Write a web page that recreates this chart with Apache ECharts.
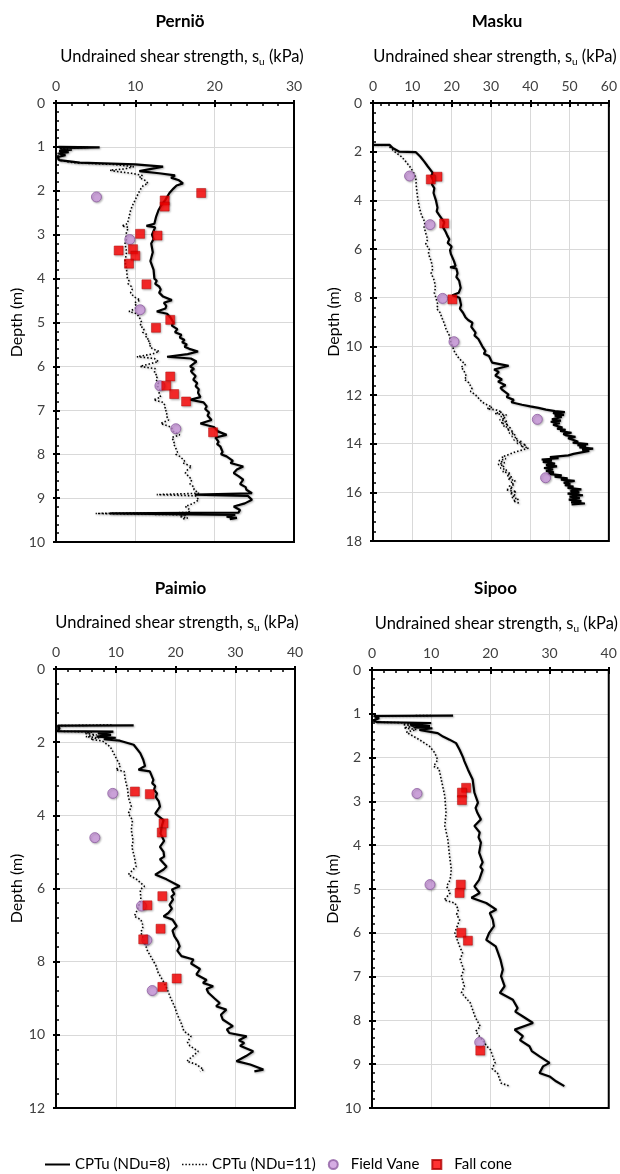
<!DOCTYPE html>
<html><head><meta charset="utf-8">
<script src="https://cdn.jsdelivr.net/npm/echarts@6/dist/echarts.min.js"></script>
<style>html,body{margin:0;padding:0;background:#fff}#c{width:620px;height:1174px}</style>
</head><body><div id="c"></div>
<script>
// ---- Data: [su (kPa), depth (m)] ----
var sites = ['Perniö', 'Masku', 'Paimio', 'Sipoo'];
var suMax = [30, 60, 40, 40];
var depthMax = [10, 18, 12, 10];
var depthStep = [1, 2, 2, 1];

var pernioCptu8 = [[0.3,1.00],[5.5,1.01],[0.5,1.03],[2.0,1.06],[0.4,1.09],[1.6,1.12],[0.3,1.15],[1.2,1.19],[0.2,1.23],[0.4,1.30],[3.0,1.36],[10.0,1.40],[13.5,1.45],[12.0,1.50],[10.5,1.55],[13.0,1.60],[15.0,1.65],[14.5,1.70],[15.5,1.76],[16.0,1.83],[15.2,1.88],[14.8,1.95],[14.3,2.05],[13.8,2.20],[13.2,2.35],[12.9,2.45],[12.6,2.60],[12.4,2.75],[11.4,2.80],[12.5,2.83],[12.1,3.00],[12.3,3.10],[12.0,3.20],[12.2,3.40],[11.9,3.60],[12.3,3.80],[12.4,4.00],[12.7,4.05],[12.5,4.12],[13.0,4.18],[13.2,4.25],[13.0,4.32],[13.5,4.41],[14.6,4.49],[13.6,4.55],[13.9,4.62],[13.8,4.68],[12.7,4.75],[14.0,4.80],[14.4,4.88],[14.8,5.00],[14.6,5.07],[15.3,5.15],[15.0,5.22],[15.8,5.28],[15.6,5.34],[16.2,5.40],[15.9,5.45],[16.5,5.50],[16.2,5.55],[16.8,5.60],[17.9,5.66],[16.6,5.72],[14.0,5.78],[17.0,5.82],[17.7,5.89],[16.9,6.00],[17.4,6.06],[17.0,6.10],[17.2,6.15],[17.6,6.22],[17.3,6.30],[17.8,6.38],[17.6,6.45],[18.0,6.52],[17.9,6.60],[18.2,6.70],[16.9,6.76],[18.6,6.82],[19.0,6.91],[18.8,6.97],[19.3,7.05],[19.1,7.12],[19.6,7.22],[18.2,7.30],[19.9,7.38],[20.4,7.48],[21.5,7.56],[20.1,7.62],[20.5,7.72],[20.3,7.77],[20.7,7.82],[21.0,7.95],[20.8,8.00],[21.5,8.05],[22.3,8.15],[22.0,8.20],[23.6,8.28],[22.8,8.35],[22.4,8.43],[23.0,8.50],[23.6,8.58],[23.2,8.68],[23.9,8.75],[24.0,8.81],[24.7,8.89],[17.5,8.92],[24.2,8.95],[24.7,9.04],[23.8,9.12],[22.4,9.19],[23.2,9.27],[23.0,9.33],[6.8,9.35],[22.6,9.38],[21.5,9.42],[22.8,9.45],[21.9,9.48]];
var pernioCptu11 = [[0.3,1.00],[4.0,1.01],[0.4,1.03],[1.5,1.06],[0.3,1.09],[1.2,1.12],[0.2,1.15],[0.9,1.19],[0.2,1.23],[0.3,1.30],[2.2,1.36],[7.3,1.40],[9.8,1.45],[8.7,1.50],[6.8,1.53],[7.6,1.56],[9.5,1.60],[10.9,1.65],[10.5,1.70],[11.2,1.76],[11.6,1.83],[11.0,1.88],[10.7,1.95],[10.4,2.05],[10.0,2.20],[9.6,2.35],[9.4,2.45],[9.2,2.60],[9.0,2.75],[8.3,2.80],[9.1,2.83],[8.8,3.00],[8.9,3.10],[8.7,3.20],[8.9,3.40],[8.7,3.60],[8.9,3.80],[9.0,4.00],[9.2,4.05],[9.1,4.12],[9.5,4.18],[9.6,4.25],[9.4,4.32],[9.8,4.41],[10.6,4.49],[9.9,4.55],[10.1,4.62],[10.0,4.68],[9.2,4.75],[10.2,4.80],[10.5,4.88],[10.8,5.00],[10.6,5.07],[11.1,5.15],[10.9,5.22],[11.5,5.28],[11.3,5.34],[11.8,5.40],[11.6,5.45],[12.0,5.50],[11.8,5.55],[12.2,5.60],[13.0,5.66],[12.1,5.72],[10.2,5.78],[12.4,5.82],[12.9,5.89],[10.6,6.00],[12.5,6.05],[12.4,6.15],[12.8,6.22],[12.6,6.30],[12.9,6.38],[12.8,6.45],[13.1,6.52],[13.0,6.60],[13.2,6.70],[12.3,6.76],[13.5,6.82],[13.8,6.91],[13.7,6.97],[14.0,7.05],[13.9,7.12],[14.2,7.22],[13.2,7.30],[14.5,7.38],[14.8,7.48],[15.6,7.56],[14.6,7.62],[14.9,7.72],[14.8,7.77],[15.0,7.82],[15.3,7.95],[15.1,8.00],[15.6,8.05],[16.2,8.15],[16.0,8.20],[17.1,8.28],[16.6,8.35],[16.3,8.43],[16.7,8.50],[17.1,8.58],[16.9,8.68],[17.4,8.75],[17.4,8.81],[18.0,8.89],[12.7,8.92],[17.6,8.95],[18.0,9.04],[17.3,9.12],[16.3,9.19],[16.9,9.27],[16.7,9.33],[5.0,9.35],[16.4,9.38],[15.6,9.42],[16.6,9.45],[15.9,9.48]];
var pernioVane = [[5.1,2.14],[9.3,3.11],[10.6,4.71],[13.1,6.44],[15.1,7.42]];
var pernioCone = [[18.3,2.05],[13.7,2.22],[13.7,2.36],[10.6,2.98],[12.8,3.02],[7.9,3.36],[9.7,3.33],[10.0,3.48],[9.2,3.66],[11.4,4.13],[14.4,4.94],[12.6,5.12],[14.4,6.23],[13.9,6.44],[14.9,6.63],[16.4,6.80],[19.8,7.50]];

var maskuCptu8 = [[0,1.72],[4.2,1.72],[5.0,1.85],[6.7,2.00],[10.9,2.02],[12.0,2.20],[13.0,2.40],[13.9,2.60],[15.2,2.87],[14.8,3.00],[15.3,3.20],[15.0,3.35],[15.6,3.50],[15.4,3.70],[16.0,4.00],[16.2,4.15],[16.4,4.30],[16.2,4.45],[16.8,4.60],[18.1,4.90],[17.8,5.10],[18.5,5.30],[18.9,5.45],[19.4,5.60],[19.0,5.75],[20.0,5.90],[19.6,6.05],[19.8,6.20],[20.6,6.50],[21.0,6.70],[19.6,6.75],[21.2,6.80],[21.5,7.00],[21.2,7.15],[21.9,7.30],[22.3,7.60],[21.8,7.80],[20.2,7.90],[22.0,8.00],[22.4,8.30],[22.1,8.45],[22.9,8.62],[23.5,8.80],[24.2,8.92],[25.3,9.03],[25.0,9.20],[26.1,9.44],[25.8,9.55],[26.8,9.70],[27.8,10.00],[28.6,10.20],[28.2,10.30],[29.5,10.40],[30.3,10.67],[34.5,10.80],[30.8,10.95],[32.0,11.05],[31.1,11.20],[32.8,11.36],[31.8,11.45],[33.7,11.60],[32.4,11.70],[33.0,11.80],[34.5,11.98],[34.0,12.08],[35.8,12.20],[35.2,12.30],[37.9,12.40],[40.0,12.47],[42.1,12.53],[44.0,12.60],[46.3,12.66],[48.8,12.70],[45.8,12.74],[46.5,12.78],[48.6,12.82],[46.2,12.85],[48.0,12.90],[45.5,13.00],[47.8,13.05],[45.2,13.10],[47.5,13.16],[45.8,13.22],[46.3,13.28],[48.2,13.34],[46.8,13.38],[49.0,13.43],[47.6,13.48],[50.5,13.55],[48.4,13.60],[49.2,13.66],[51.5,13.72],[49.6,13.78],[51.0,13.85],[52.2,13.92],[50.8,13.96],[54.7,14.02],[52.0,14.06],[54.2,14.10],[52.5,14.15],[56.0,14.20],[53.2,14.25],[55.0,14.30],[53.0,14.36],[51.0,14.42],[49.7,14.48],[45.0,14.55],[47.2,14.60],[42.9,14.65],[45.5,14.70],[43.2,14.75],[46.3,14.82],[44.0,14.88],[46.8,14.93],[43.5,15.00],[45.8,15.06],[44.0,15.12],[46.0,15.18],[44.5,15.24],[48.0,15.30],[46.2,15.36],[49.5,15.42],[47.8,15.48],[51.3,15.53],[48.5,15.60],[50.2,15.66],[48.8,15.71],[51.0,15.76],[49.5,15.82],[53.0,15.88],[50.2,15.94],[52.5,16.00],[49.5,16.05],[53.4,16.12],[50.0,16.18],[52.6,16.24],[49.8,16.30],[53.0,16.36],[50.4,16.41],[53.9,16.46],[50.5,16.50]];
var maskuCptu11 = [[0,1.72],[3.8,1.72],[4.5,1.85],[5.5,2.00],[7.2,2.20],[8.3,2.40],[9.3,2.60],[10.3,2.85],[10.9,3.10],[11.0,3.40],[11.2,3.70],[11.4,3.95],[11.8,4.30],[12.3,4.60],[13.2,4.90],[13.0,5.10],[13.5,5.40],[13.9,5.60],[13.4,5.80],[14.3,6.00],[14.1,6.20],[14.8,6.50],[15.2,6.80],[14.8,7.00],[15.6,7.30],[15.9,7.60],[15.6,7.80],[16.0,8.00],[16.5,8.30],[16.2,8.45],[17.0,8.60],[17.6,8.85],[18.1,9.05],[18.6,9.30],[19.4,9.55],[19.8,9.80],[20.2,10.00],[20.8,10.25],[21.9,10.50],[23.5,10.75],[22.4,10.85],[23.1,11.00],[23.8,11.25],[23.2,11.35],[24.4,11.50],[25.2,11.75],[24.8,11.85],[26.1,12.00],[27.8,12.30],[29.0,12.40],[30.3,12.50],[29.0,12.56],[31.5,12.62],[32.8,12.70],[31.0,12.76],[34.0,12.82],[32.5,12.88],[33.7,12.95],[32.2,13.02],[34.2,13.08],[32.5,13.15],[34.5,13.22],[33.2,13.28],[35.0,13.35],[34.0,13.42],[35.8,13.50],[34.6,13.56],[36.2,13.62],[35.3,13.70],[36.8,13.78],[35.8,13.85],[37.9,13.92],[36.6,13.98],[39.0,14.05],[37.5,14.10],[39.6,14.18],[38.2,14.25],[36.0,14.35],[34.5,14.45],[32.8,14.55],[33.8,14.62],[32.0,14.70],[33.5,14.78],[31.8,14.85],[33.4,14.92],[32.4,15.00],[34.0,15.08],[33.0,15.15],[35.0,15.22],[34.0,15.30],[35.4,15.38],[34.3,15.45],[36.2,15.52],[35.0,15.60],[36.0,15.68],[34.6,15.75],[35.6,15.82],[33.8,15.90],[36.5,15.97],[34.8,16.04],[36.3,16.12],[35.2,16.20],[37.0,16.28],[35.6,16.35],[36.8,16.42],[37.4,16.48]];
var maskuVane = [[9.3,3.00],[14.5,5.00],[17.7,8.03],[20.6,9.81],[41.8,13.00],[43.9,15.40]];
var maskuCone = [[16.4,3.03],[14.7,3.14],[18.1,4.95],[20.2,8.07]];

var paimioCptu8 = [[13.0,1.54],[0.3,1.55],[0.6,1.62],[0.2,1.70],[9.6,1.71],[7.0,1.76],[9.2,1.80],[6.8,1.85],[10.0,1.88],[8.0,1.92],[10.7,1.96],[10.7,2.00],[13.0,2.07],[14.1,2.30],[14.6,2.48],[14.9,2.65],[13.8,2.75],[15.7,2.80],[16.3,3.03],[16.1,3.12],[16.6,3.20],[16.4,3.30],[16.9,3.40],[16.7,3.50],[17.2,3.62],[17.4,3.76],[16.6,3.95],[18.0,4.13],[17.7,4.30],[17.5,4.50],[18.1,4.70],[17.4,4.86],[18.0,5.00],[18.1,5.13],[17.4,5.20],[18.5,5.40],[18.0,5.48],[16.6,5.62],[18.5,5.75],[20.7,5.94],[19.4,6.03],[19.8,6.15],[19.3,6.22],[19.6,6.30],[19.0,6.45],[19.4,6.55],[18.8,6.67],[18.0,6.76],[19.5,6.85],[20.2,7.03],[19.5,7.15],[19.8,7.30],[20.4,7.45],[20.7,7.58],[20.3,7.70],[21.0,7.85],[23.0,7.94],[22.6,8.05],[24.1,8.20],[23.5,8.35],[25.2,8.50],[24.6,8.58],[26.3,8.67],[25.2,8.75],[25.5,8.85],[26.5,9.00],[27.4,9.13],[26.8,9.22],[28.5,9.31],[27.6,9.45],[27.9,9.58],[29.6,9.76],[28.6,9.85],[29.0,9.95],[31.9,10.04],[30.6,10.15],[31.5,10.22],[30.8,10.30],[33.0,10.45],[31.8,10.58],[30.2,10.72],[32.5,10.81],[34.7,10.95],[33.2,11.00]];
var paimioCptu11 = [[9.3,1.53],[0.3,1.55],[0.5,1.62],[0.2,1.70],[6.0,1.72],[4.9,1.76],[6.8,1.80],[5.0,1.85],[7.2,1.88],[5.8,1.92],[7.8,1.97],[7.8,2.00],[9.1,2.13],[10.2,2.48],[10.8,2.65],[10.0,2.75],[11.4,2.80],[11.6,3.03],[12.0,3.30],[12.1,3.50],[12.6,3.76],[12.1,3.95],[12.8,4.13],[12.6,4.40],[12.9,4.70],[12.7,4.86],[13.1,5.13],[13.4,5.40],[12.1,5.62],[13.5,5.75],[14.8,5.94],[14.1,6.03],[14.2,6.30],[13.7,6.55],[13.1,6.76],[14.2,6.85],[14.6,7.03],[14.2,7.20],[14.8,7.45],[15.3,7.70],[16.0,7.90],[16.7,8.10],[17.1,8.30],[18.0,8.55],[18.6,8.75],[19.2,9.00],[19.9,9.25],[20.3,9.45],[21.0,9.70],[21.4,9.90],[22.6,10.04],[22.0,10.20],[22.4,10.30],[23.8,10.45],[22.9,10.58],[21.9,10.72],[23.5,10.81],[24.7,10.95],[24.1,11.00]];
var paimioVane = [[9.5,3.40],[6.5,4.61],[14.3,6.48],[15.2,7.41],[16.1,8.79]];
var paimioCone = [[13.2,3.35],[15.7,3.42],[18.0,4.22],[17.7,4.47],[17.8,6.21],[15.3,6.46],[17.5,7.10],[14.6,7.39],[20.2,8.46],[17.8,8.69]];

var sipooCptu8 = [[13.7,1.04],[0.3,1.05],[1.2,1.10],[0.2,1.15],[0.8,1.19],[10.0,1.21],[6.4,1.25],[9.8,1.28],[7.0,1.31],[10.2,1.33],[8.0,1.37],[11.1,1.44],[12.0,1.52],[13.1,1.59],[14.2,1.67],[14.8,1.82],[15.4,2.00],[15.6,2.08],[16.2,2.27],[17.0,2.50],[17.3,2.80],[17.9,3.03],[17.5,3.15],[17.8,3.26],[18.4,3.41],[17.3,3.56],[18.2,3.71],[18.0,3.82],[18.4,3.94],[18.1,4.17],[18.7,4.39],[18.3,4.50],[18.7,4.56],[18.1,4.79],[17.3,4.94],[18.2,5.09],[16.8,5.20],[19.3,5.32],[21.0,5.47],[19.9,5.55],[20.4,5.70],[20.6,5.85],[19.8,6.00],[19.3,6.16],[20.9,6.31],[21.3,6.46],[21.7,6.61],[22.1,6.84],[21.8,6.99],[22.4,7.22],[21.6,7.37],[23.8,7.53],[24.6,7.72],[24.2,7.80],[25.5,7.91],[27.2,8.06],[24.1,8.21],[25.5,8.36],[25.0,8.45],[26.6,8.59],[27.0,8.70],[28.3,8.82],[30.0,8.97],[28.9,9.05],[28.3,9.20],[30.0,9.28],[31.1,9.39],[32.5,9.50]];
var sipooCptu11 = [[10.0,1.04],[0.3,1.05],[0.9,1.10],[0.2,1.15],[0.6,1.19],[7.3,1.21],[5.2,1.25],[7.1,1.28],[5.4,1.32],[7.5,1.36],[5.8,1.42],[8.0,1.59],[9.7,1.74],[10.6,1.89],[11.1,2.05],[10.4,2.20],[11.3,2.25],[11.7,2.50],[12.3,2.88],[12.5,3.26],[12.3,3.56],[12.8,3.86],[13.1,4.24],[13.4,4.55],[13.2,4.79],[12.6,4.94],[13.2,5.09],[12.2,5.25],[14.0,5.32],[14.6,5.47],[14.3,5.58],[14.8,5.70],[14.0,6.00],[14.4,6.16],[14.8,6.31],[15.3,6.46],[14.9,6.61],[15.5,6.84],[15.1,6.99],[15.6,7.22],[15.1,7.37],[16.6,7.60],[17.4,7.91],[18.3,8.14],[17.5,8.25],[18.6,8.44],[19.4,8.59],[20.0,8.67],[20.8,8.97],[20.3,9.10],[21.2,9.20],[21.8,9.43],[23.2,9.50]];
var sipooVane = [[7.6,2.82],[9.8,4.90],[18.2,8.50]];
var sipooCone = [[15.9,2.69],[15.2,2.80],[15.2,2.97],[15.0,4.90],[14.8,5.09],[15.1,6.00],[16.2,6.18],[18.3,8.69]];

var cptu8 = [pernioCptu8, maskuCptu8, paimioCptu8, sipooCptu8];
var cptu11 = [pernioCptu11, maskuCptu11, paimioCptu11, sipooCptu11];
var vane = [pernioVane, maskuVane, paimioVane, sipooVane];
var cone = [pernioCone, maskuCone, paimioCone, sipooCone];
var seriesNames = ['CPTu (NDu=8)', 'CPTu (NDu=11)', 'Field Vane', 'Fall cone'];

// ---- Layout ----
var FONT = 'Lato';
var boxes = [
  {left: 56, top: 103, width: 238, height: 439, titleTop: 8, nameShift: 14},
  {left: 373, top: 103, width: 238, height: 438, titleTop: 8, nameShift: 8},
  {left: 56, top: 669, width: 239, height: 439, titleTop: 575, nameShift: 3},
  {left: 372, top: 670, width: 237, height: 438, titleTop: 575, nameShift: 12}
];

var grids = [], xAxes = [], yAxes = [], titles = [], series = [];
var xOuter = [], yOuter = [];
var shadow = {shadowColor: 'rgba(0,0,0,0.3)', shadowBlur: 2, shadowOffsetX: 1, shadowOffsetY: 1};
boxes.forEach(function (b, i) {
  grids.push({left: b.left, top: b.top, width: b.width, height: b.height, show: true, z: 3,
    borderColor: '#000', borderWidth: 2, backgroundColor: 'transparent', containLabel: false});
  titles.push({text: sites[i], left: b.left + b.width / 2, top: b.titleTop, textAlign: 'center',
    textStyle: {fontFamily: FONT, fontSize: 17, fontWeight: 'bold', color: '#000'}});
  xAxes.push({type: 'value', gridIndex: i, position: 'top', min: 0, max: suMax[i], interval: 10,
    name: 'Undrained shear strength, s{sub|u} (kPa)', nameLocation: 'middle', nameGap: 36,
    nameTextStyle: {fontFamily: FONT, fontSize: 16.5, color: '#000', padding: [0, 0, 0, b.nameShift],
      rich: {sub: {fontFamily: FONT, fontSize: 10, color: '#000', verticalAlign: 'bottom', padding: [10, 0, 0, 0]}}},
    axisLine: {show: true, onZero: false, lineStyle: {color: '#000', width: 2}},
    axisTick: {show: true, inside: true, length: 4, lineStyle: {color: '#000', width: 2}},
    minorTick: {show: true, splitNumber: 5, length: 3, lineStyle: {color: '#000', width: 1.5}},
    splitLine: {show: true, showMinLine: false, showMaxLine: false, lineStyle: {color: '#d9d9d9', width: 1}},
    axisLabel: {margin: 10, fontFamily: FONT, fontSize: 14, color: '#404040'}});
  xOuter.push({type: 'value', gridIndex: i, position: 'top', min: 0, max: suMax[i], interval: 10,
    axisLine: {show: false}, axisLabel: {show: false}, splitLine: {show: false},
    axisTick: {show: true, inside: false, length: 3, lineStyle: {color: '#000', width: 2}}});
  yAxes.push({type: 'value', gridIndex: i, inverse: true, min: 0, max: depthMax[i], interval: depthStep[i],
    name: 'Depth (m)', nameLocation: 'middle', nameGap: 31, nameRotate: 90,
    nameTextStyle: {fontFamily: FONT, fontSize: 16, color: '#000'},
    axisLine: {show: true, onZero: false, lineStyle: {color: '#000', width: 2}},
    axisTick: {show: true, inside: true, length: 4, lineStyle: {color: '#000', width: 2}},
    minorTick: {show: true, splitNumber: 5, length: 3, lineStyle: {color: '#000', width: 1.5}},
    splitLine: {show: true, showMinLine: false, showMaxLine: false, lineStyle: {color: '#d9d9d9', width: 1}},
    axisLabel: {margin: 11, fontFamily: FONT, fontSize: 14, color: '#404040'}});
  yOuter.push({type: 'value', gridIndex: i, position: 'left', inverse: true, min: 0, max: depthMax[i], interval: depthStep[i],
    axisLine: {show: false}, axisLabel: {show: false}, splitLine: {show: false},
    axisTick: {show: true, inside: false, length: 3, lineStyle: {color: '#000', width: 2}}});
  series.push({name: seriesNames[0], type: 'line', xAxisIndex: i, yAxisIndex: i, data: cptu8[i],
    symbol: 'none', showSymbol: false, z: 3, color: '#000',
    lineStyle: Object.assign({color: '#000', width: 2.2}, shadow)});
  series.push({name: seriesNames[1], type: 'line', xAxisIndex: i, yAxisIndex: i, data: cptu11[i],
    symbol: 'none', showSymbol: false, z: 2, color: '#000',
    lineStyle: Object.assign({color: '#000', width: 1.6, type: [1.5, 2]}, shadow)});
  series.push({name: seriesNames[2], type: 'scatter', xAxisIndex: i, yAxisIndex: i, data: vane[i],
    symbol: 'circle', symbolSize: 10, z: 4,
    itemStyle: Object.assign({color: '#cc99dd', borderColor: '#8e5ea2', borderWidth: 1}, shadow)});
  series.push({name: seriesNames[3], type: 'scatter', xAxisIndex: i, yAxisIndex: i, data: cone[i],
    symbol: 'rect', symbolSize: 9, z: 5,
    itemStyle: Object.assign({color: '#ff0000', borderColor: '#b00000', borderWidth: 0.6}, shadow)});
});

var chart = echarts.init(document.getElementById('c'), null, {renderer: 'canvas'});
chart.setOption({
  animation: false,
  backgroundColor: '#fff',
  title: titles,
  grid: grids,
  xAxis: xAxes.concat(xOuter),
  yAxis: yAxes.concat(yOuter),
  legend: {left: 40, top: 1152, itemWidth: 25, itemHeight: 9, itemGap: 12,
    textStyle: {fontFamily: FONT, fontSize: 15, color: '#000'},
    data: [
      {name: seriesNames[0], icon: 'path://M0,0L25,0L25,2L0,2Z'},
      {name: seriesNames[1], icon: 'path://M0,0h1.5v1.5h-1.5zM3.5,0h1.5v1.5h-1.5zM7,0h1.5v1.5h-1.5zM10.5,0h1.5v1.5h-1.5zM14,0h1.5v1.5h-1.5zM17.5,0h1.5v1.5h-1.5zM21,0h1.5v1.5h-1.5zM24.5,0h1.5v1.5h-1.5z'},
      {name: seriesNames[2], icon: 'circle'},
      {name: seriesNames[3], icon: 'path://M0,0L10,0L10,10L0,10Z'}
    ]},
  series: series
});
</script></body></html>
